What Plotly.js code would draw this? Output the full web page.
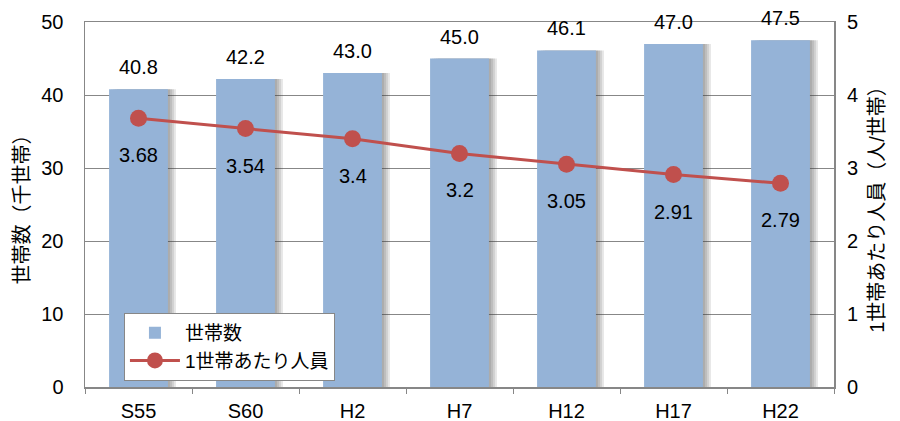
<!DOCTYPE html>
<html>
<head>
<meta charset="utf-8">
<script src="https://cdn.plot.ly/plotly-3.0.1.min.js"></script>
<style>html,body{margin:0;padding:0;background:#fff;}#chart{width:900px;height:421px;}</style>
</head>
<body>
<div id="chart"></div>
<script>
const categories = ["S55", "S60", "H2", "H7", "H12", "H17", "H22"];
const households = [40.8, 42.2, 43.0, 45.0, 46.1, 47.0, 47.5];
const perHousehold = [3.68, 3.54, 3.4, 3.2, 3.05, 2.91, 2.79];
const householdLabels = ["40.8", "42.2", "43.0", "45.0", "46.1", "47.0", "47.5"];
const perLabels = ["3.68", "3.54", "3.4", "3.2", "3.05", "2.91", "2.79"];

const font = "Arial, 'Liberation Sans', 'Noto Sans CJK JP', sans-serif";
const barWidth = 0.55;
const pxPerCat = 107;

const traces = [];
// soft drop shadow layers behind the bars
[8, 6, 4, 2].forEach(px => {
  traces.push({
    type: "bar", x: categories, y: households, yaxis: "y", showlegend: false,
    width: barWidth, offset: -barWidth / 2 + px / pxPerCat,
    marker: {color: "rgba(60,60,60,0.13)", line: {width: 0}}, hoverinfo: "none"
  });
});
traces.push({
  type: "bar", name: "世帯数", x: categories, y: households,
  marker: {color: "#95B3D7", line: {width: 0}}, width: barWidth, offset: -barWidth / 2,
  yaxis: "y", hoverinfo: "none"
});
traces.push({
  type: "scatter", mode: "lines+markers", name: "1世帯あたり人員",
  x: categories, y: perHousehold, yaxis: "y2",
  line: {color: "#C0504D", width: 3}, marker: {color: "#C0504D", size: 17},
  hoverinfo: "none"
});

const annotations = [];
categories.forEach((c, i) => {
  annotations.push({x: c, y: households[i], xref: "x", yref: "y", text: householdLabels[i],
    showarrow: false, yshift: 22, font: {size: 20, color: "#000"}});
  annotations.push({x: c, y: perHousehold[i], xref: "x", yref: "y2", text: perLabels[i],
    showarrow: false, yshift: -37, font: {size: 20, color: "#000"}});
});

const layout = {
  width: 900, height: 421,
  margin: {l: 85, r: 66, t: 22, b: 34},
  paper_bgcolor: "#fff", plot_bgcolor: "#fff",
  font: {family: font, size: 20, color: "#000"},
  barmode: "overlay",
  showlegend: true,
  legend: {x: 0.052, y: 0.203, xanchor: "left", yanchor: "top",
    bgcolor: "#fff", bordercolor: "#878787", borderwidth: 1,
    font: {size: 19}, tracegroupgap: 0, itemwidth: 50, traceorder: "normal"},
  xaxis: {type: "category", showline: true, linecolor: "#878787", linewidth: 1.5, mirror: true,
    ticks: "outside", tickson: "boundaries", ticklen: 5, tickcolor: "#878787",
    showgrid: false, tickfont: {size: 20}, ticklabelstandoff: 5},
  yaxis: {range: [0, 50], dtick: 10, showline: true, linecolor: "#878787", linewidth: 1.5, mirror: true,
    showgrid: true, gridcolor: "#878787", gridwidth: 1, zeroline: false, ticks: "",
    tickfont: {size: 20}, ticklabelstandoff: 16,
    title: {text: "世帯数（千世帯）", font: {size: 20}, standoff: 6}},
  yaxis2: {range: [0, 5], dtick: 1, overlaying: "y", side: "right", showgrid: false,
    zeroline: false, showline: false, ticks: "", tickfont: {size: 20}, ticklabelstandoff: 12,
    title: {text: "1世帯あたり人員（人/世帯）", font: {size: 20}, standoff: 12}},
  annotations: annotations
};

Plotly.newPlot("chart", traces, layout, {displayModeBar: false, staticPlot: true});
</script>
</body>
</html>
